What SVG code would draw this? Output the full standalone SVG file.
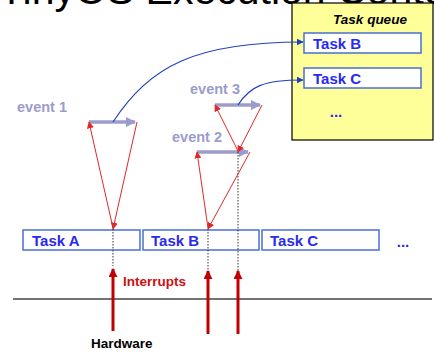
<svg xmlns="http://www.w3.org/2000/svg" width="434" height="353" viewBox="0 0 434 353">
  <defs>
    <style>
      .title { font-family: "Liberation Sans", Arial, sans-serif; font-size: 41px; fill: #000; }
      .task { fill: #fff; stroke: #4a6fd0; stroke-width: 1.5; }
      .tasklbl { font-family: "Liberation Sans", Arial, sans-serif; font-weight: bold; font-size: 15px; fill: #2a2aee; }
      .evlbl { font-family: "Liberation Sans", Arial, sans-serif; font-weight: bold; font-size: 14.5px; fill: #9c9ccc; }
      .evbar { stroke: #9c9ccc; stroke-width: 3.5; fill: none; }
      .trig { stroke: #e02828; stroke-width: 1; fill: none; }
      .flow { stroke: #2040c0; stroke-width: 1.2; fill: none; }
      .dots { stroke: #333; stroke-width: 1; stroke-dasharray: 1.5 1.5; fill: none; }
      .irq { stroke: #c00000; stroke-width: 3; fill: none; }
      .small { font-family: "Liberation Sans", Arial, sans-serif; font-weight: bold; font-size: 13.5px; }
    </style>
    <marker id="evHead" viewBox="0 0 10 10" refX="9" refY="5" markerWidth="3" markerHeight="3" orient="auto">
      <path d="M0,0 L10,5 L0,10 z" fill="#9c9ccc"/>
    </marker>
    <marker id="redHead" viewBox="0 0 10 10" refX="9" refY="5" markerWidth="7" markerHeight="7" orient="auto" markerUnits="userSpaceOnUse">
      <path d="M0,0 L10,5 L0,10 z" fill="#e02828"/>
    </marker>
    <marker id="blueHead" viewBox="0 0 10 10" refX="9" refY="5" markerWidth="7" markerHeight="7" orient="auto" markerUnits="userSpaceOnUse">
      <path d="M0,0 L10,5 L0,10 z" fill="#2040c0"/>
    </marker>
    <marker id="irqHead" viewBox="0 0 10 10" refX="9" refY="5" markerWidth="3" markerHeight="3" orient="auto">
      <path d="M0,0 L10,5 L0,10 z" fill="#c00000"/>
    </marker>
  </defs>

  <rect width="434" height="353" fill="#fff"/>

  <!-- slide title, mostly above the visible area -->
  <text class="title" x="-1" y="3.5">TinyOS Execution Context</text>

  <!-- task queue -->
  <g id="queue">
    <rect x="292" y="3" width="141" height="137" fill="#ffff99" stroke="#000" stroke-width="1.2"/>
    <text x="370" y="24" text-anchor="middle" font-family="Liberation Sans, Arial, sans-serif" font-weight="bold" font-style="italic" font-size="13.5">Task queue</text>
  </g>
  <g id="q-taskB">
    <rect class="task" x="304" y="33" width="117" height="20"/>
    <text class="tasklbl" x="313" y="49">Task B</text>
  </g>
  <g id="q-taskC">
    <rect class="task" x="304" y="68" width="117" height="20"/>
    <text class="tasklbl" x="313" y="84">Task C</text>
  </g>
  <g id="q-more">
    <text class="tasklbl" x="336" y="117" text-anchor="middle">...</text>
  </g>

  <!-- running tasks -->
  <g id="taskA">
    <rect class="task" x="23" y="230" width="117" height="20"/>
    <text class="tasklbl" x="32" y="246">Task A</text>
  </g>
  <g id="taskB">
    <rect class="task" x="143" y="230" width="116" height="20"/>
    <text class="tasklbl" x="151" y="246">Task B</text>
  </g>
  <g id="taskC">
    <rect class="task" x="262" y="230" width="117" height="20"/>
    <text class="tasklbl" x="270" y="246">Task C</text>
  </g>
  <g id="tasks-more">
    <text class="tasklbl" x="403" y="247" text-anchor="middle">...</text>
  </g>

  <!-- events -->
  <g id="event1">
    <text class="evlbl" x="17" y="112">event 1</text>
    <line class="evbar" x1="89" y1="122" x2="135" y2="122" marker-end="url(#evHead)"/>
  </g>
  <g id="event2">
    <text class="evlbl" x="172" y="142">event 2</text>
    <line class="evbar" x1="197" y1="152" x2="248" y2="152" marker-end="url(#evHead)"/>
  </g>
  <g id="event3">
    <text class="evlbl" x="190" y="94">event 3</text>
    <line class="evbar" x1="215" y1="105" x2="260" y2="105" marker-end="url(#evHead)"/>
  </g>

  <!-- hardware side -->
  <g id="hardware">
    <line x1="13" y1="299" x2="432" y2="299" stroke="#444" stroke-width="1.3"/>
    <text class="small" x="91" y="348" fill="#000">Hardware</text>
    <text class="small" x="123" y="286" fill="#cc1010">Interrupts</text>
  </g>

  <g id="connectors">
    <!-- interrupt lines -->
    <line class="dots" x1="113" y1="229" x2="113" y2="266"/>
    <line class="dots" x1="208" y1="229" x2="208" y2="272"/>
    <line class="dots" x1="238" y1="152" x2="238" y2="272"/>
    <line class="irq" x1="113" y1="331" x2="113" y2="269" marker-end="url(#irqHead)"/>
    <line class="irq" x1="208" y1="334" x2="208" y2="271" marker-end="url(#irqHead)"/>
    <line class="irq" x1="238" y1="334" x2="238" y2="271" marker-end="url(#irqHead)"/>

    <!-- event triggers -->
    <line class="trig" x1="113" y1="228" x2="89" y2="122" marker-end="url(#redHead)"/>
    <line class="trig" x1="137" y1="122" x2="113" y2="229" marker-end="url(#redHead)"/>
    <line class="trig" x1="208" y1="228" x2="197" y2="152" marker-end="url(#redHead)"/>
    <line class="trig" x1="250" y1="152" x2="208" y2="229" marker-end="url(#redHead)"/>
    <line class="trig" x1="238" y1="151" x2="215" y2="105" marker-end="url(#redHead)"/>
    <line class="trig" x1="262" y1="105" x2="238" y2="152" marker-end="url(#redHead)"/>

    <!-- posting tasks -->
    <path class="flow" d="M113,122 C150,66 195,42 303,42" marker-end="url(#blueHead)"/>
    <path class="flow" d="M238,105 C250,86 264,80 303,80" marker-end="url(#blueHead)"/>
  </g>
</svg>
